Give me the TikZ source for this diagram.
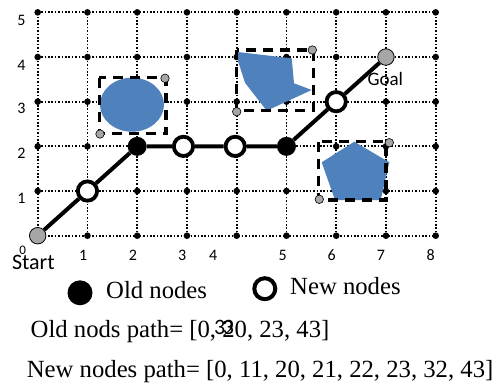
\documentclass[tikz,border=0pt]{standalone}
\usepackage{fontspec}
\setmainfont{Liberation Serif}
\setsansfont{Carlito}
\usepackage{tikz}
\definecolor{obstacle}{RGB}{79,129,189}
\definecolor{handlegray}{RGB}{166,166,166}

\begin{document}
\begin{tikzpicture}[x=1pt,y=-1pt]
\tikzstyle{gridline}=[black,line width=1.8pt,dash pattern=on 1.6pt off 1.8pt]
\tikzstyle{box}=[black,line width=3.3pt,dash pattern=on 10pt off 7pt]
\tikzstyle{handle}=[circle,fill=handlegray,draw=black,line width=0.6pt,minimum size=8.5pt,inner sep=0pt]
\tikzstyle{oldnode}=[circle,fill=black,minimum size=19pt,inner sep=0pt]
\tikzstyle{newnode}=[circle,fill=white,draw=black,line width=3.8pt,minimum size=19.3pt,inner sep=0pt]
\tikzstyle{endnode}=[circle,fill=handlegray,draw=black,line width=0.8pt,minimum size=16.5pt,inner sep=0pt]
\tikzstyle{axis}=[font=\sffamily\fontsize{16}{16}\selectfont,inner sep=0pt]
\tikzstyle{legend}=[font=\fontsize{24.7}{26}\selectfont,inner sep=0pt,anchor=base west]
% end of definitions
\useasboundingbox (0,0) rectangle (501,383);
\begin{scope}[shift={(37.7,235.7)},x=49.75pt,y=44.67pt]
\foreach \j in {0,...,5} \draw[gridline] (0,\j) -- (8,\j);
\foreach \i in {0,...,8} \draw[gridline] (\i,0) -- (\i,5);
\foreach \i in {0,...,8} \foreach \j in {0,...,5} \fill[black] (\i,\j) circle (3.3pt); %grid points
\end{scope}
% obstacles
\fill[obstacle] (132,104.7) ellipse (32pt and 27pt);
\fill[obstacle] (235,51.7) -- (291.7,58.3) -- (294,83.3) -- (311.7,90) -- (266.7,110.7) -- (245,82.7) -- cycle;
\fill[obstacle] (354.3,141.7) -- (389.3,162.3) -- (380.7,200) -- (335,200) -- (321.7,162.3) -- cycle;
\draw[box] (99.3,77.7) rectangle (166,133.3);
\draw[box] (236.7,50) rectangle (313.3,110.7);
\draw[box] (318.3,141.7) rectangle (386,200);
\node[handle] (ha1) at (165,78.3) {};
\node[handle] (hb1) at (100,134) {};
\node[handle] (ha2) at (312.3,50) {};
\node[handle] (hb2) at (236.7,111.7) {};
\node[handle] (ha3) at (389.3,142.7) {};
\node[handle] (hb3) at (319.3,199.3) {};
% path
\begin{scope}[shift={(37.7,235.7)},x=49.75pt,y=44.67pt]
\node[endnode] (start) at (0,0) {};
\node[newnode] (n11) at (1,1) {};
\node[oldnode] (o22) at (2,2) {};
\node[newnode] (n32) at (2.93,2) {};
\node[newnode] (n42) at (3.97,2) {};
\node[oldnode] (o52) at (5,2) {};
\node[newnode] (n63) at (6,3) {};
\node[endnode] (goal) at (7,4) {};
\draw[black,line width=4pt] (start) -- (n11) -- (o22) -- (n32) -- (n42) -- (o52) -- (n63) -- (goal);
\end{scope}
% labels
\foreach \t/\y in {5/20.8,4/65.3,3/108.7,2/153.7,1/198.7} \node[axis] (yl\t) at (21.5,\y) {\t};
\foreach \t/\x in {1/83.3,2/133,3/182.3,4/213.3,5/282.7,6/331.7,7/381,8/430.7} \node[axis] (xl\t) at (\x,255.5) {\t};
\node[axis,font=\sffamily\fontsize{13}{13}\selectfont] (xl0) at (22.7,250) {0};
\node[axis,font=\sffamily\fontsize{22}{22}\selectfont] (startlabel) at (33.4,262.8) {Start};
\node[axis,font=\sffamily\fontsize{19}{19}\selectfont] (goallabel) at (385.3,78.7) {Goal};
% legend
\node[circle,fill=black,minimum size=25pt,inner sep=0pt] (lold) at (80,292.8) {};
\node[legend] (told) at (106,298) {Old nodes};
\node[circle,fill=white,draw=black,line width=4pt,minimum size=21pt,inner sep=0pt] (lnew) at (264.8,288.7) {};
\node[legend] (tnew) at (290,294) {New nodes};
\node[legend] (pold) at (30.5,337.3) {Old nods path= [0, 20, 23, 43]};
\node[axis,font=\sffamily\fontsize{22}{22}\selectfont] (p33) at (224,327.5) {3\kern-2.5pt3};
\node[legend] (pnew) at (26.7,377.7) {New nodes path= [0, 11, 20, 21, 22, 23, 32, 43]};
\end{tikzpicture}
\end{document}
